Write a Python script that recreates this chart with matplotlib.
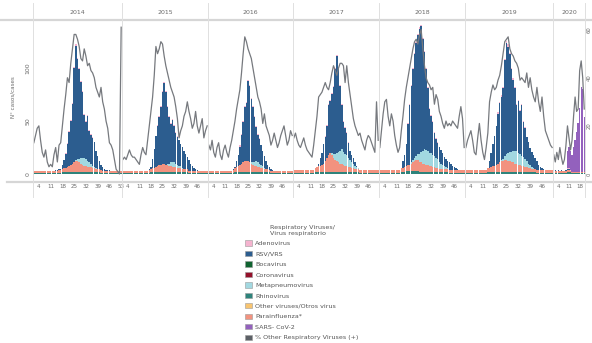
import matplotlib
matplotlib.use("Agg")
import matplotlib.pyplot as plt
from matplotlib.patches import Patch
from matplotlib.lines import Line2D

years = ['2014', '2015', '2016', '2017', '2018', '2019', '2020']
n_weeks = [53, 52, 52, 52, 52, 52, 21]

# weekly cases by virus, one list per year (rows of 10 weeks)
rsv_2014 = [0,0,0,0,0,0,0,0,0,0, 0,0,0,1,1,1,1,4,7,13, 21,32,41,56,89,108,94,85,72,62,
            41,35,43,30,27,26,23,16,12,7, 5,4,2,1,1,1,0,0,0,0, 0,0,0]
para_2014 = [2,2,2,2,2,2,2,2,2,2, 2,2,2,2,2,3,3,3,4,4, 5,6,7,8,9,10,10,9,8,7,
             6,6,5,5,5,4,4,3,3,3, 3,2,2,2,2,2,2,2,2,2, 2,2,2]
meta_2014 = [0,0,0,0,0,0,0,0,0,0, 0,0,0,0,0,0,0,0,0,0, 0,0,0,0,0,1,2,3,5,6,
             7,6,5,4,3,2,1,1,0,0, 0,0,0,0,0,0,0,0,0,0, 0,0,0]
rhino_2014 = [1,1,1,1,1,1,1,1,1,1, 1,1,1,1,1,1,1,2,2,2, 2,2,2,2,2,2,2,2,2,2,
              2,2,2,2,2,2,2,2,2,2, 1,1,1,1,1,1,1,1,1,1, 1,1,1]
adeno_2014 = [0,0,0,0,0,0,0,0,0,0, 0,0,0,0,0,0,0,0,0,1, 1,1,1,1,1,1,1,1,1,1,
              1,1,1,1,1,1,0,0,0,0, 0,0,0,0,0,0,0,0,0,0, 0,0,0]
pct_2014 = [13,16,19,20,14,9,7,10,5,3, 4,3,8,11,5,12,13,20,27,33, 40,38,46,52,58,58,56,53,48,47,
            52,49,45,46,43,42,40,36,34,32, 36,30,27,22,19,13,12,10,6,2, 1,0,61]

rsv_2015 = [0,0,0,0,0,0,0,0,0,0, 0,0,0,0,0,0,1,2,8,18, 29,37,45,54,67,76,68,53,44,36,
            40,34,29,26,24,20,20,17,14,11, 10,7,5,3,2,1,0,0,0,0, 0,0]
para_2015 = [2,2,2,2,2,2,2,2,2,2, 2,2,2,2,2,2,3,3,4,4, 5,6,7,7,8,8,7,7,6,6,
             5,5,5,4,4,4,3,3,3,3, 2,2,2,2,2,2,2,2,2,2, 2,2]
meta_2015 = [0,0,0,0,0,0,0,0,0,0, 0,0,0,0,0,0,0,0,0,0, 0,0,0,0,0,0,0,1,2,3,
             4,4,3,3,2,2,1,0,0,0, 0,0,0,0,0,0,0,0,0,0, 0,0]
rhino_2015 = [1,1,1,1,1,1,1,1,1,1, 1,1,1,1,1,1,1,2,2,2, 2,2,2,2,2,2,2,2,2,2,
              2,2,2,2,2,2,2,2,2,2, 1,1,1,1,1,1,1,1,1,1, 1,1]
adeno_2015 = [0,0,0,0,0,0,0,0,0,0, 0,0,0,0,0,0,0,0,0,0, 0,1,1,1,1,1,1,1,1,1,
              1,1,1,1,0,0,0,0,0,0, 0,0,0,0,0,0,0,0,0,0, 0,0]
pct_2015 = [6,7,6,8,10,8,7,7,6,5, 4,8,11,9,8,14,20,26,32,41, 53,50,52,55,54,49,45,42,39,36,
            34,32,28,23,15,18,20,24,26,30, 26,23,19,21,26,20,17,20,23,15, 18,20]

rsv_2016 = [0,0,0,0,0,0,0,0,0,0, 0,0,0,0,0,1,1,5,10,17, 27,38,51,55,76,72,60,52,43,32,
            26,23,18,14,11,7,4,3,2,1, 0,0,0,0,0,0,0,0,0,0, 0,0]
para_2016 = [2,2,2,2,2,2,2,2,2,2, 2,2,2,2,2,3,4,5,6,7, 8,9,10,10,10,9,8,7,6,6,
             5,5,4,4,3,3,3,2,2,2, 2,2,2,2,2,2,2,2,2,2, 2,2]
meta_2016 = [0,0,0,0,0,0,0,0,0,0, 0,0,0,0,0,0,0,0,0,0, 0,0,0,0,0,0,1,2,3,4,
             4,3,3,2,1,0,0,0,0,0, 0,0,0,0,0,0,0,0,0,0, 0,0]
rhino_2016 = [1,1,1,1,1,1,1,1,1,1, 1,1,1,1,1,1,2,2,2,2, 2,2,2,2,2,2,2,2,2,2,
              2,2,2,2,2,2,2,2,1,1, 1,1,1,1,1,1,1,1,1,1, 1,1]
adeno_2016 = [0,0,0,0,0,0,0,0,0,0, 0,0,0,0,0,0,0,0,0,1, 1,1,1,1,1,1,1,1,1,1,
              1,1,0,0,0,0,0,0,0,0, 0,0,0,0,0,0,0,0,0,0, 0,0]
pct_2016 = [12,10,14,9,7,11,13,8,6,10, 12,9,7,11,14,18,22,27,31,35, 42,50,57,55,52,50,48,44,40,36,
            32,30,27,21,25,20,18,16,12,14, 17,14,11,13,16,18,20,16,12,14, 18,16]

rsv_2017 = [0,0,0,0,0,0,0,0,0,0, 0,0,0,0,0,2,7,11,18,23, 30,47,49,55,63,80,91,78,61,41,
            28,24,21,14,9,7,5,3,1,0, 0,0,0,0,0,0,0,0,0,0, 0,0]
para_2017 = [3,3,3,3,3,3,3,3,3,3, 3,3,3,4,5,6,6,7,8,10, 13,16,18,16,13,11,10,9,8,8,
             7,6,6,5,5,4,4,3,3,3, 3,3,3,3,3,3,3,3,3,3, 3,3]
meta_2017 = [0,0,0,0,0,0,0,0,0,0, 0,0,0,0,0,0,0,0,0,0, 0,0,0,2,4,6,8,10,12,14,
             12,11,10,8,6,5,4,3,2,1, 0,0,0,0,0,0,0,0,0,0, 0,0]
rhino_2017 = [1,1,1,1,1,1,1,1,1,1, 1,1,1,2,2,2,2,2,2,2, 2,2,2,2,2,2,2,2,2,2,
              2,2,2,2,2,2,2,2,2,2, 1,1,1,1,1,1,1,1,1,1, 1,1]
adeno_2017 = [0,0,0,0,0,0,0,0,0,0, 0,0,0,0,0,0,0,0,0,1, 1,1,1,1,1,1,1,1,1,1,
              1,1,1,1,0,0,0,0,0,0, 0,0,0,0,0,0,0,0,0,0, 0,0]
pct_2017 = [15,17,14,12,11,13,15,12,10,9, 8,7,12,18,24,32,33,34,36,38, 36,35,38,42,45,43,41,44,46,46,
            45,38,45,38,33,28,23,20,18,16, 17,14,12,10,14,16,15,13,11,9, 30,14]

rsv_2018 = [0,0,0,0,0,0,0,0,0,0, 0,0,0,0,6,11,20,38,56,72, 86,98,106,112,118,118,105,91,76,59,
            41,35,31,22,18,15,15,13,11,8, 7,6,7,6,4,3,2,1,0,0, 0,0]
para_2018 = [3,3,3,3,3,3,3,3,3,3, 3,3,3,4,4,5,5,6,6,7, 8,9,10,10,9,9,8,8,7,7,
             6,6,5,5,4,4,3,3,3,3, 3,3,3,3,3,3,3,3,3,3, 3,3]
meta_2018 = [0,0,0,0,0,0,0,0,0,0, 0,0,0,0,0,0,0,0,0,1, 2,3,4,6,8,10,12,14,14,13,
             12,12,11,10,9,8,6,5,4,3, 2,1,0,0,0,0,0,0,0,0, 0,0]
rhino_2018 = [1,1,1,1,1,1,1,1,1,1, 1,1,1,2,2,2,3,3,3,3, 3,3,3,3,2,2,2,2,2,2,
              2,2,2,2,2,2,2,2,2,2, 2,2,1,1,1,1,1,1,1,1, 1,1]
adeno_2018 = [0,0,0,0,0,0,0,0,0,0, 0,0,0,0,0,0,0,1,1,1, 1,1,1,1,1,1,1,1,1,1,
              1,1,1,1,1,1,0,0,0,0, 0,0,0,0,0,0,0,0,0,0, 0,0]
pct_2018 = [11,18,25,30,31,24,20,25,22,16, 12,9,11,18,24,31,36,40,44,48, 52,55,56,54,58,60,52,45,40,38,
            37,35,36,29,33,31,26,24,21,19, 22,20,21,20,22,21,20,19,24,28, 23,11]

rsv_2019 = [0,0,0,0,0,0,0,0,0,0, 0,0,0,0,6,13,20,28,36,47, 56,60,67,90,104,100,92,78,67,59,
            43,49,40,48,33,29,23,20,16,14, 12,10,8,5,3,2,1,0,0,0, 0,0]
para_2019 = [3,3,3,3,3,3,3,3,3,3, 3,3,3,4,4,5,6,6,7,8, 9,10,10,11,11,10,10,9,9,8,
             8,7,7,6,6,5,5,4,4,3, 3,3,3,3,3,3,3,3,3,3, 3,3]
meta_2019 = [0,0,0,0,0,0,0,0,0,0, 0,0,0,0,0,0,0,0,0,0, 0,1,2,4,6,8,9,10,11,12,
             12,11,10,9,8,7,5,4,3,2, 1,0,0,0,0,0,0,0,0,0, 0,0]
rhino_2019 = [1,1,1,1,1,1,1,1,1,1, 1,1,1,2,2,2,2,2,2,2, 2,2,2,2,2,2,2,2,2,2,
              2,2,2,2,2,2,2,2,2,2, 2,2,1,1,1,1,1,1,1,1, 1,1]
adeno_2019 = [0,0,0,0,0,0,0,0,0,0, 0,0,0,0,0,0,0,0,0,1, 1,1,1,1,2,2,1,1,1,1,
              1,1,1,1,1,1,0,0,0,0, 0,0,0,0,0,0,0,0,0,0, 0,0]
pct_2019 = [11,14,16,18,14,9,8,15,21,14, 9,6,11,17,30,34,37,35,36,39, 41,45,50,55,56,57,52,50,49,47,
            46,44,39,40,39,38,42,36,40,35, 32,30,36,30,26,32,24,18,16,14, 12,11]

rsv_2020 = [1,1,0,1,0,1,0,0,1,1, 1,0,0,0,0,0,0,0,0,0, 0]
para_2020 = [2,2,2,2,2,2,2,2,2,2, 2,1,1,1,1,1,1,1,1,1, 1]
meta_2020 = [0,0,0,0,0,0,0,0,0,0, 0,0,0,0,0,0,0,0,0,0, 0]
rhino_2020 = [1,1,1,1,1,1,1,1,1,2, 2,2,1,1,1,1,1,1,1,1, 1]
adeno_2020 = [0,0,0,0,0,0,0,0,0,1, 1,1,0,0,0,0,0,0,0,0, 0]
sars_2020 = [0,0,0,0,0,0,0,0,0,16, 20,18,16,24,30,38,46,60,80,78, 52]
pct_2020 = [8,5,9,6,11,7,4,6,12,20, 15,10,14,24,32,26,27,43,47,40, 27]

rsv = dict(zip(years, [rsv_2014, rsv_2015, rsv_2016, rsv_2017, rsv_2018, rsv_2019, rsv_2020]))
para = dict(zip(years, [para_2014, para_2015, para_2016, para_2017, para_2018, para_2019, para_2020]))
meta = dict(zip(years, [meta_2014, meta_2015, meta_2016, meta_2017, meta_2018, meta_2019, meta_2020]))
rhino = dict(zip(years, [rhino_2014, rhino_2015, rhino_2016, rhino_2017, rhino_2018, rhino_2019, rhino_2020]))
adeno = dict(zip(years, [adeno_2014, adeno_2015, adeno_2016, adeno_2017, adeno_2018, adeno_2019, adeno_2020]))
pct = dict(zip(years, [pct_2014, pct_2015, pct_2016, pct_2017, pct_2018, pct_2019, pct_2020]))

legend_labels = ['Adenovirus', 'RSV/VRS', 'Bocavirus', 'Coronavirus', 'Metapneumovirus',
                 'Rhinovirus', 'Other viruses/Otros virus', 'Parainfluenza*', 'SARS- CoV-2',
                 '% Other Respiratory Viruses (+)']
legend_colors = ['#f5b3cf', '#2c5d8f', '#0f6330', '#94102a', '#a2d8e0',
                 '#2e837b', '#f8c470', '#f2927f', '#9361bd', '#5c6066']
c_adeno, c_rsv, c_meta, c_rhino, c_para, c_sars = (legend_colors[0], legend_colors[1], legend_colors[4],
                                                   legend_colors[5], legend_colors[7], legend_colors[8])
line_color = '#76797e'
txt = '#6a6a6a'

W, H = 592, 343
fig = plt.figure(figsize=(W / 100, H / 100), dpi=100)

def fx(px):
    return px / W

def fy(py):
    return 1 - py / H

edges = [33, 122, 208, 293, 379, 465, 553, 585]
top, bot = 20, 180

for i, yr in enumerate(years):
    n = n_weeks[i]
    wk = list(range(1, n + 1))
    ax = fig.add_axes([fx(edges[i]), fy(bot), fx(edges[i + 1] - edges[i]), (bot - top) / H])
    stack = [(rhino[yr], c_rhino), (para[yr], c_para), (meta[yr], c_meta),
             (rsv[yr], c_rsv), (adeno[yr], c_adeno)]
    if yr == '2020':
        stack.append((sars_2020, c_sars))
    base = [0] * n
    for vals, col in stack:
        ax.bar(wk, vals, bottom=base, width=0.9, color=col, linewidth=0)
        base = [b + v for b, v in zip(base, vals)]
    ax.set_xlim(0.5, n + 0.5)
    ax.set_ylim(-5.5, 145)
    ticks = [t for t in [4, 11, 18, 25, 32, 39, 46, 53] if t <= n]
    ax.set_xticks(ticks)
    ax.set_xticklabels([str(t) for t in ticks])
    ax.tick_params(axis='x', length=0, pad=3, labelsize=4, labelcolor=txt)
    if i == 0:
        ax.set_yticks([0, 50, 100])
        ax.set_yticklabels(['0', '50', '100'], rotation=90, va='center')
        ax.tick_params(axis='y', length=0, pad=2, labelsize=4.5, labelcolor=txt)
    else:
        ax.set_yticks([])
    for s in ax.spines.values():
        s.set_visible(False)
    ax.patch.set_alpha(0)

    ax2 = ax.twinx()
    ax2.plot(wk, pct[yr], color=line_color, lw=0.9)
    ax2.set_ylim(-2.5, 64)
    ax2.set_xlim(0.5, n + 0.5)
    if yr == '2020':
        ax2.set_yticks([0, 20, 40, 60])
        ax2.set_yticklabels(['0', '20', '40', '60'], rotation=90, va='center')
        ax2.tick_params(axis='y', length=0, pad=1, labelsize=3.8, labelcolor=txt)
    else:
        ax2.set_yticks([])
    for s in ax2.spines.values():
        s.set_visible(False)

    fig.text(fx((edges[i] + edges[i + 1]) / 2), fy(12), yr, fontsize=4.5, color=txt,
             ha='center', va='center')

# frame lines
fig.add_artist(Line2D([0, 1], [fy(20), fy(20)], color='#d6d6d6', lw=1.6))
fig.add_artist(Line2D([fx(7), 1], [fy(182), fy(182)], color='#d6d6d6', lw=1.6))
for e in edges:
    fig.add_artist(Line2D([fx(e), fx(e)], [fy(3), fy(197)], color='#e0e0e0', lw=0.7))

fig.text(fx(13), fy(97), 'N° casos/cases', rotation=90, fontsize=4, color=txt,
         ha='center', va='center')

handles = [Patch(facecolor=c, edgecolor='#9a9a9a', linewidth=0.4) for c in legend_colors]
leg = fig.legend(handles, legend_labels, loc='upper center', bbox_to_anchor=(fx(302), fy(225)),
                 frameon=False, fontsize=4.6, title='Respiratory Viruses/\nVirus respiratorio',
                 title_fontsize=4.6, handlelength=1.1, handleheight=0.9, handletextpad=0.5,
                 labelspacing=0.72, borderaxespad=0, borderpad=0)
for t in leg.get_texts():
    t.set_color('#555555')
leg.get_title().set_color('#555555')

fig.savefig('out.png', dpi=100)
